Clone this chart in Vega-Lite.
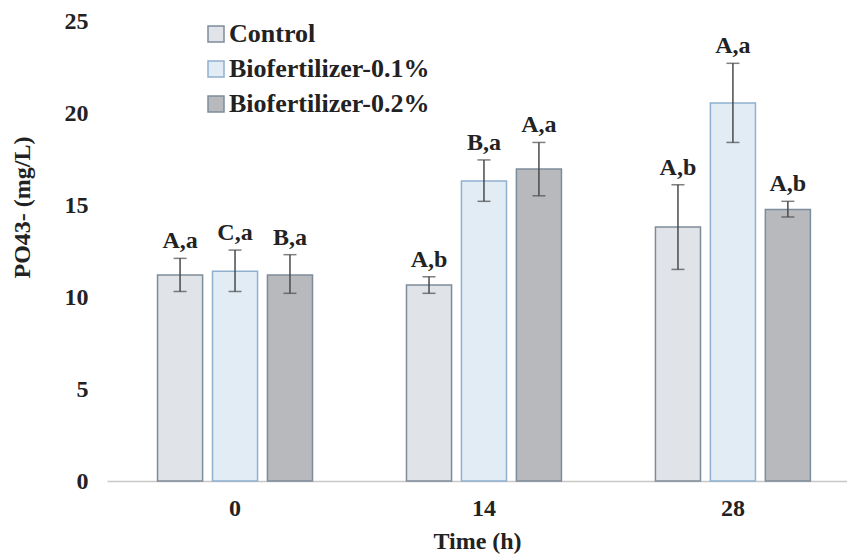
{
  "$schema": "https://vega.github.io/schema/vega-lite/v6.json",
  "width": 740,
  "height": 460,
  "autosize": {"type": "none"},
  "padding": {"left": 107, "top": 21, "right": 0, "bottom": 76},
  "background": "white",
  "config": {"view": {"stroke": null}, "font": "Liberation Serif"},
  "data": {
    "values": [
      {"time": "0", "group": "Control", "value": 11.2, "lo": 10.3, "hi": 12.1, "label": "A,a"},
      {"time": "0", "group": "Biofertilizer-0.1%", "value": 11.4, "lo": 10.3, "hi": 12.55, "label": "C,a"},
      {"time": "0", "group": "Biofertilizer-0.2%", "value": 11.2, "lo": 10.2, "hi": 12.3, "label": "B,a"},
      {"time": "14", "group": "Control", "value": 10.65, "lo": 10.2, "hi": 11.1, "label": "A,b"},
      {"time": "14", "group": "Biofertilizer-0.1%", "value": 16.3, "lo": 15.2, "hi": 17.45, "label": "B,a"},
      {"time": "14", "group": "Biofertilizer-0.2%", "value": 16.95, "lo": 15.5, "hi": 18.4, "label": "A,a"},
      {"time": "28", "group": "Control", "value": 13.8, "lo": 11.5, "hi": 16.1, "label": "A,b"},
      {"time": "28", "group": "Biofertilizer-0.1%", "value": 20.55, "lo": 18.4, "hi": 22.7, "label": "A,a"},
      {"time": "28", "group": "Biofertilizer-0.2%", "value": 14.75, "lo": 14.35, "hi": 15.2, "label": "A,b"}
    ]
  },
  "encoding": {
    "x": {
      "field": "time", "type": "nominal", "sort": ["0", "14", "28"],
      "scale": {"paddingInner": 0.3775, "paddingOuter": 0.175, "align": 0.58},
      "title": "Time (h)",
      "axis": {
        "labelAngle": 0, "domain": true, "domainColor": "#c8c8c8", "domainWidth": 1.5,
        "ticks": false, "grid": false,
        "labelFont": "Liberation Serif", "labelFontSize": 24, "labelFontWeight": "bold", "labelColor": "#222222", "labelPadding": 15,
        "titleFont": "Liberation Serif", "titleFontSize": 24, "titleFontWeight": "bold", "titleColor": "#222222", "titlePadding": 9
      }
    },
    "xOffset": {
      "field": "group", "type": "nominal",
      "sort": ["Control", "Biofertilizer-0.1%", "Biofertilizer-0.2%"],
      "scale": {"paddingInner": 0.18, "paddingOuter": 0}
    }
  },
  "layer": [
    {
      "mark": {"type": "bar", "strokeWidth": 1.5},
      "encoding": {
        "y": {
          "field": "value", "type": "quantitative",
          "scale": {"domain": [0, 25], "nice": false},
          "title": "PO43- (mg/L)",
          "axis": {
            "values": [0, 5, 10, 15, 20, 25], "domain": false, "ticks": false, "grid": false,
            "labelFont": "Liberation Serif", "labelFontSize": 24, "labelFontWeight": "bold", "labelColor": "#222222", "labelPadding": 19,
            "titleFont": "Liberation Serif", "titleFontSize": 24, "titleFontWeight": "bold", "titleColor": "#222222",
            "titleX": -85, "titleY": 186, "titleBaseline": "middle", "titleAngle": 270
          }
        },
        "fill": {
          "field": "group", "type": "nominal",
          "scale": {"domain": ["Control", "Biofertilizer-0.1%", "Biofertilizer-0.2%"], "range": ["#e0e3e7", "#e2ecf5", "#b8b9bc"]},
          "legend": {
            "orient": "none", "legendX": 96, "legendY": 0, "title": null,
            "symbolType": "square", "symbolSize": 256, "symbolStrokeWidth": 1.5,
            "labelFont": "Liberation Serif", "labelFontSize": 26, "labelFontWeight": "bold", "labelColor": "#222222",
            "labelOffset": 0, "rowPadding": 9, "labelLimit": 400
          }
        },
        "stroke": {
          "field": "group", "type": "nominal",
          "scale": {"domain": ["Control", "Biofertilizer-0.1%", "Biofertilizer-0.2%"], "range": ["#7d8c9b", "#8fb0cf", "#7d8c9b"]},
          "legend": {
            "orient": "none", "legendX": 96, "legendY": 0, "title": null,
            "symbolType": "square", "symbolSize": 256, "symbolStrokeWidth": 1.5,
            "labelFont": "Liberation Serif", "labelFontSize": 26, "labelFontWeight": "bold", "labelColor": "#222222",
            "labelOffset": 0, "rowPadding": 9, "labelLimit": 400
          }
        }
      }
    },
    {
      "mark": {"type": "rule", "color": "#4a4a4a", "strokeWidth": 1.5},
      "encoding": {
        "y": {"field": "lo", "type": "quantitative"},
        "y2": {"field": "hi"}
      }
    },
    {
      "mark": {"type": "tick", "color": "#4a4a4a", "size": 13, "thickness": 1.5, "orient": "horizontal"},
      "encoding": {"y": {"field": "lo", "type": "quantitative"}}
    },
    {
      "mark": {"type": "tick", "color": "#4a4a4a", "size": 13, "thickness": 1.5, "orient": "horizontal"},
      "encoding": {"y": {"field": "hi", "type": "quantitative"}}
    },
    {
      "mark": {"type": "text", "baseline": "alphabetic", "dy": -10, "font": "Liberation Serif", "fontSize": 24, "fontWeight": "bold", "color": "#222222"},
      "encoding": {
        "y": {"field": "hi", "type": "quantitative"},
        "text": {"field": "label"}
      }
    }
  ]
}
